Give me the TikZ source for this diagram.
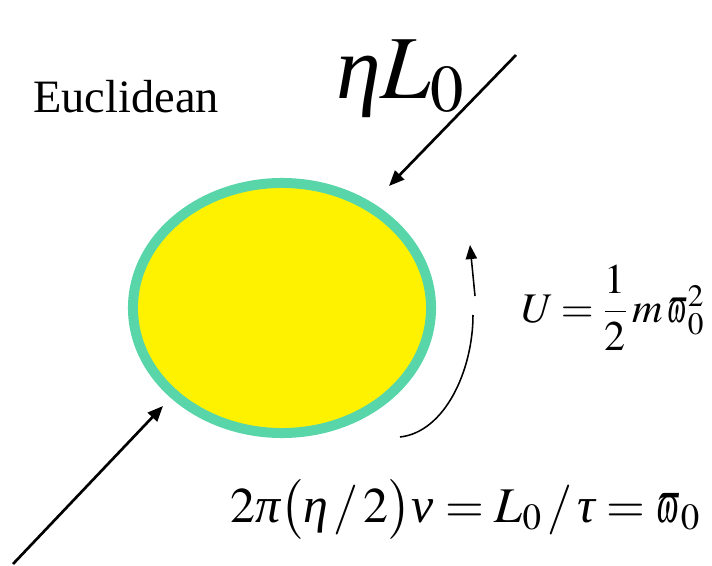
\documentclass[tikz,border=0pt]{standalone}
\usepackage{mathptmx}
\usepackage{amsmath}
\usepackage{graphicx}
\usepackage{fontspec}
\setmainfont{Liberation Serif}
\usetikzlibrary{arrows.meta,shapes.geometric}
\definecolor{rimgreen}{RGB}{88,214,170}
\newcommand\gk[1]{\text{\itshape #1}}
\newcommand\vpi{\mathord{\scalebox{0.6}[1]{$\varpi$}}}
\tikzset{
  push/.style={line width=1.9pt,-{Triangle[length=11pt,width=9pt]}},
  spin/.style={line width=1.1pt},
  lbl/.style={inner sep=0,anchor=base west}
}

\begin{document}
\begin{tikzpicture}[x=0.025cm,y=-0.025cm]
\useasboundingbox (0,0) rectangle (712,566);
% the body
\node[ellipse,fill=yellow,draw=rimgreen,line width=7.1pt,inner sep=0,
      minimum width=7.45cm,minimum height=6.25cm] (sphere) at (282,308) {};
% labels
\node[lbl,font=\fontsize{33}{36}\selectfont] (eucl) at (33,112) {Euclidean};
\node[lbl,font=\fontsize{64}{68}\selectfont] (load) at (336,98) {$\gk{η}\mathit{L}_0$};
\node[lbl,font=\fontsize{30}{34}\selectfont] (energy) at (519,322)
  {$\mathit{U}=\dfrac{1}{2}\,\mathit{m}\,\vpi_0^2$};
\node[lbl,font=\fontsize{35.5}{40}\selectfont] (freq) at (230,522)
  {$2\gk{π}\bigl(\gk{η}\,/\,2\bigr)\gk{ν}=\mathit{L}_0\,/\,\gk{τ}=\vpi_0$};
% arrows
\coordinate (inTop) at (516,55);
\coordinate (hitTop) at (389,186);
\coordinate (inBot) at (13,564);
\coordinate (hitBot) at (163,406);
\draw[push] (inTop) -- (hitTop);
\draw[push] (inBot) -- (hitBot);
\coordinate (spinA) at (400,437);
\coordinate (spinB) at (473,315);
\coordinate (spinC) at (475,296);
\coordinate (spinD) at (470,245);
\draw[spin] (spinA) .. controls (445,432) and (473,370) .. (spinB);
\draw[spin,-{Triangle[length=10pt,width=8pt]}] (spinC) -- (spinD);
\end{tikzpicture}
\end{document}
